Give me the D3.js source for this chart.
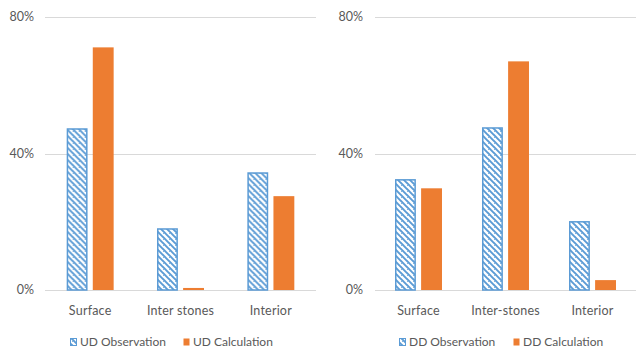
<!DOCTYPE html>
<html><head><meta charset="utf-8">
<script src="https://cdn.jsdelivr.net/npm/d3@7"></script>
<style>
html,body{margin:0;padding:0;background:#fff;}
svg{display:block;}
text{font-family:Lato,"Liberation Sans",sans-serif;fill:#595959;}
</style></head>
<body>
<svg id="c" width="641" height="352"></svg>
<script>
const categoriesLeft = ["Surface", "Inter stones", "Interior"];
const observationLeft = [47.4, 18.1, 34.5];
const calculationLeft = [71.1, 0.6, 27.5];
const seriesLeft = ["UD Observation", "UD Calculation"];

const categoriesRight = ["Surface", "Inter-stones", "Interior"];
const observationRight = [32.5, 47.7, 20.2];
const calculationRight = [29.8, 67.0, 2.9];
const seriesRight = ["DD Observation", "DD Calculation"];

const yTicks = [0, 40, 80];

const blue = "#5B9BD5", orange = "#ED7D31", grid = "#d9d9d9";
const svg = d3.select("#c");

const defs = svg.append("defs");
const pat = defs.append("pattern").attr("id","hatch").attr("patternUnits","userSpaceOnUse")
  .attr("width",6).attr("height",6);
pat.append("rect").attr("width",6).attr("height",6).attr("fill","#fff");
pat.append("path").attr("d","M-3,0 L3,6 M0,-3 L6,3 M3,0 L9,6 M-3,3 L3,9 M0,3 L6,9")
  .attr("stroke",blue).attr("stroke-width",1.8);

function drawChart(o) {
  const g = svg.append("g");
  const y = d3.scaleLinear().domain([0,80]).range([290,17]);
  const x0 = d3.scaleBand().domain(o.cats).range([o.x0, o.x1]).paddingInner(o.pad).paddingOuter(o.pad/2);
  const x1 = d3.scaleBand().domain(o.series).range([0, x0.bandwidth()]).paddingInner(0.2);

  g.selectAll(".grid").data(yTicks).join("line")
    .attr("x1", o.x0).attr("x2", o.x1)
    .attr("y1", d => Math.round(y(d))+0.5).attr("y2", d => Math.round(y(d))+0.5)
    .attr("stroke", grid).attr("stroke-width", 1);

  g.selectAll(".yl").data(yTicks).join("text")
    .attr("x", o.labelX).attr("y", d => y(d)).attr("dy","0.35em")
    .attr("text-anchor","end").attr("font-size", 12.5)
    .text(d => d + "%");

  const rows = o.cats.map((c,i) => ({c, vals:[o.obs[i], o.calc[i]]}));
  const grp = g.selectAll(".grp").data(rows).join("g")
    .attr("transform", d => `translate(${x0(d.c)},0)`);
  grp.selectAll("rect").data(d => d.vals.map((v,j)=>({v, s:o.series[j], j}))).join("rect")
    .attr("x", d => x1(d.s) + (d.j===0?0.75:0))
    .attr("width", d => x1.bandwidth() - (d.j===0?1.5:0))
    .attr("y", d => y(d.v) + (d.j===0?0.75:0))
    .attr("height", d => y(0) - y(d.v) - (d.j===0?0.75:0))
    .attr("fill", d => d.j===0 ? "url(#hatch)" : orange)
    .attr("stroke", d => d.j===0 ? blue : "none")
    .attr("stroke-width", 1.5);

  g.selectAll(".cl").data(o.cats).join("text")
    .attr("x", d => x0(d) + x0.bandwidth()/2).attr("y", 311).attr("dy","0.35em")
    .attr("text-anchor","middle").attr("font-size", 12.5).attr("letter-spacing", 0.2)
    .text(d => d);

  const lg = g.append("g");
  o.series.forEach((s,j) => {
    const lx = o.legX[j];
    lg.append("rect").attr("x", lx+0.5).attr("y", 338.5).attr("width", 6).attr("height", 7)
      .attr("fill", j===0 ? "url(#hatch)" : orange)
      .attr("stroke", j===0 ? blue : "none").attr("stroke-width", 1);
    lg.append("text").attr("x", lx+10).attr("y", 342).attr("dy","0.35em")
      .attr("font-size", 12).text(s);
  });
}

drawChart({cats:categoriesLeft, obs:observationLeft, calc:calculationLeft, series:seriesLeft,
  x0:45, x1:316, pad:0.48, labelX:34, legX:[70,183]});
drawChart({cats:categoriesRight, obs:observationRight, calc:calculationRight, series:seriesRight,
  x0:375, x1:636, pad:0.46, labelX:363, legX:[399,513]});
</script>
</body></html>
